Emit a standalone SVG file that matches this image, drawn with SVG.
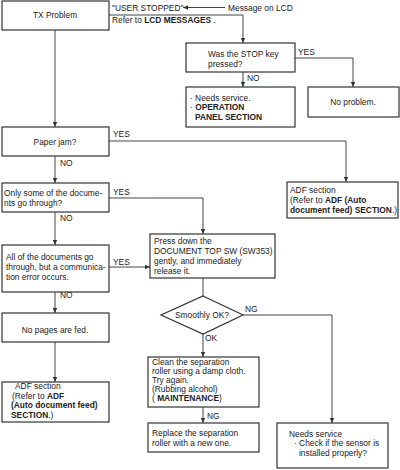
<svg xmlns="http://www.w3.org/2000/svg" width="400" height="470" viewBox="0 0 400 470">
<defs>
<style>
.box{fill:#fff;stroke:#333;stroke-width:1.2}
.ln{fill:none;stroke:#444;stroke-width:1}
text{font-family:"Liberation Sans",Arial,sans-serif;font-size:8.4px;fill:#222}
.c{text-anchor:middle}
.b{font-weight:bold}
</style>
<marker id="ah" markerWidth="6" markerHeight="6" refX="5" refY="3" orient="auto" markerUnits="userSpaceOnUse">
<path d="M0,0.8 L5,3 L0,5.2 Z" fill="#333"/>
</marker>
</defs>
<rect width="400" height="470" fill="#fff"/>
<g id="connectors">
<path class="ln" d="M109,15 H243 V43" marker-end="url(#ah)"/>
<path class="ln" d="M225,7.5 H183" marker-end="url(#ah)"/>
<path class="ln" d="M295,58 H353 V87" marker-end="url(#ah)"/>
<path class="ln" d="M243,72 V87" marker-end="url(#ah)"/>
<path class="ln" d="M55,30 V127" marker-end="url(#ah)"/>
<path class="ln" d="M109,141 H346 V182" marker-end="url(#ah)"/>
<path class="ln" d="M55,156 V183" marker-end="url(#ah)"/>
<path class="ln" d="M109,198 H203 V234" marker-end="url(#ah)"/>
<path class="ln" d="M55,212 V245" marker-end="url(#ah)"/>
<path class="ln" d="M109,267 H150" marker-end="url(#ah)"/>
<path class="ln" d="M55,292 V313" marker-end="url(#ah)"/>
<path class="ln" d="M55,342 V382" marker-end="url(#ah)"/>
<path class="ln" d="M203,278 V296"/>
<path class="ln" d="M243,315 H332 V423" marker-end="url(#ah)"/>
<path class="ln" d="M203,334 V357" marker-end="url(#ah)"/>
<path class="ln" d="M203,407 V423" marker-end="url(#ah)"/>
<text x="112" y="10.5">"USER STOPPED"</text>
<text x="228" y="10.5">Message on LCD</text>
<text x="112" y="23">Refer to <tspan class="b">LCD MESSAGES</tspan> .</text>
<text x="298" y="55">YES</text>
<text x="247" y="81">NO</text>
<text x="113" y="137">YES</text>
<text x="60" y="166">NO</text>
<text x="113" y="195">YES</text>
<text x="60" y="221">NO</text>
<text x="113" y="265">YES</text>
<text x="60" y="298">NO</text>
<text x="245" y="312">NG</text>
<text x="205" y="341">OK</text>
<text x="207" y="419">NG</text>
</g>
<g id="tx">
<rect class="box" x="2" y="1" width="107" height="29"/>
<text class="c" x="55" y="18">TX Problem</text>
</g>
<g id="stop">
<rect class="box" x="186" y="43" width="109" height="29"/>
<text x="208" y="57">Was the STOP key</text>
<text x="208" y="67">pressed?</text>
</g>
<g id="needs-service-panel">
<rect class="box" x="186" y="87" width="109" height="40"/>
<text x="190" y="101">· Needs service.</text>
<text x="190" y="110">· <tspan class="b">OPERATION</tspan></text>
<text x="195" y="120" class="b">PANEL SECTION</text>
</g>
<g id="no-problem">
<rect class="box" x="308" y="87" width="91" height="30"/>
<text class="c" x="353" y="105">No problem.</text>
</g>
<g id="paper-jam">
<rect class="box" x="2" y="127" width="107" height="29"/>
<text class="c" x="55" y="145">Paper jam?</text>
</g>
<g id="adf-right">
<rect class="box" x="287" y="182" width="111" height="36"/>
<text x="290" y="193">ADF section</text>
<text x="290" y="203">(Refer to <tspan class="b">ADF (Auto</tspan></text>
<text x="290" y="213"><tspan class="b">document feed) SECTION</tspan>.)</text>
</g>
<g id="only-some">
<rect class="box" x="2" y="183" width="107" height="29"/>
<text x="4" y="196">Only some of the docume-</text>
<text x="4" y="206">nts go through?</text>
</g>
<g id="press-down">
<rect class="box" x="150" y="234" width="125" height="44"/>
<text x="154" y="244">Press down the</text>
<text x="154" y="254">DOCUMENT TOP SW (SW353)</text>
<text x="154" y="264">gently, and immediately</text>
<text x="154" y="274">release it.</text>
</g>
<g id="all-docs">
<rect class="box" x="2" y="245" width="107" height="47"/>
<text x="6" y="260">All of the documents go</text>
<text x="6" y="270">through, but a communica-</text>
<text x="6" y="280">tion error occurs.</text>
</g>
<g id="no-pages">
<rect class="box" x="2" y="313" width="107" height="29"/>
<text class="c" x="55" y="333">No pages are fed.</text>
</g>
<g id="adf-left">
<rect class="box" x="2" y="382" width="107" height="40"/>
<text x="15" y="389">ADF section</text>
<text x="12" y="398.5">(Refer to  <tspan class="b">ADF</tspan></text>
<text x="11" y="408" class="b">(Auto document feed)</text>
<text x="11" y="417.5"><tspan class="b">SECTION</tspan>.)</text>
</g>
<g id="smoothly">
<polygon class="box" points="203,296 243,315 203,334 161,315"/>
<text class="c" x="202" y="318">Smoothly OK?</text>
</g>
<g id="clean">
<rect class="box" x="148" y="357" width="111" height="50"/>
<text x="152" y="365">Clean the separation</text>
<text x="152" y="374">roller using a damp cloth.</text>
<text x="152" y="383">Try again.</text>
<text x="152" y="392">(Rubbing alcohol)</text>
<text x="152" y="401">( <tspan class="b">MAINTENANCE</tspan>)</text>
</g>
<g id="replace">
<rect class="box" x="148" y="423" width="111" height="29"/>
<text x="152" y="436">Replace the separation</text>
<text x="152" y="446">roller with a new one.</text>
</g>
<g id="needs-service-sensor">
<rect class="box" x="277" y="423" width="111" height="45"/>
<text x="289" y="437">Needs service</text>
<text x="294" y="446">· Check if the sensor is</text>
<text x="299" y="456">installed properly?</text>
</g>
</svg>
